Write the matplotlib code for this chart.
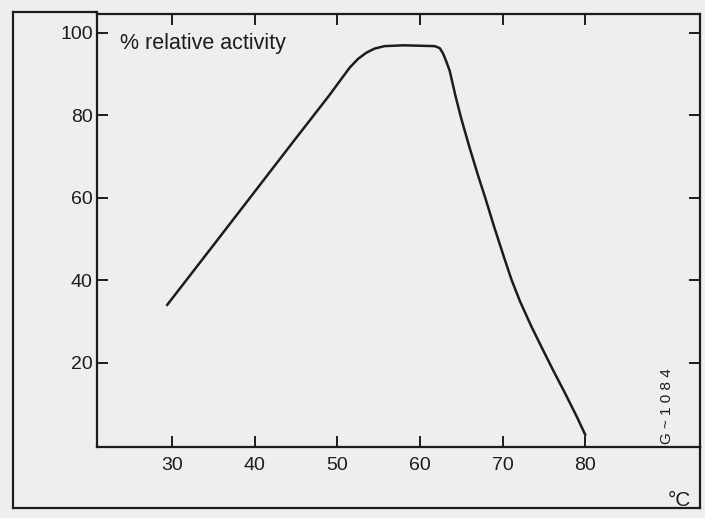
import matplotlib.pyplot as plt
from matplotlib.lines import Line2D

# values
temp = [29.4, 35, 40, 45, 49, 50.5, 51.5, 52.5, 53.5, 54.5, 55.7, 58, 61.8,
        62.4, 62.8, 63.2, 63.6, 64.3, 65.0, 66.0, 67.0, 67.9, 69.0, 70.2,
        71.1, 72.1, 73.5, 75.0, 76.1, 77.5, 79.0, 80.0]
activity = [34, 48.5, 61.5, 74.5, 84.8, 88.9, 91.6, 93.7, 95.2, 96.2, 96.8, 97, 96.8,
            96.3, 95.0, 93.0, 90.8, 84.7, 79.2, 72.2, 65.6, 60.0, 52.8, 45.4,
            40.0, 34.9, 28.7, 22.6, 18.2, 12.8, 6.8, 2.5]
xticks = [30, 40, 50, 60, 70, 80]
yticks = [20, 40, 60, 80, 100]

ink = '#1c1c1c'
paper = '#eeeeee'
plt.rcParams['font.family'] = ['Liberation Sans', 'DejaVu Sans']

fig = plt.figure(figsize=(7.05, 5.18), dpi=100, facecolor=paper)
ax = fig.add_axes([97/705, 1-447/518, (700-97)/705, (447-14)/518])
ax.set_facecolor(paper)

ax.plot(temp, activity, color=ink, lw=1.8, solid_joinstyle='round')

ax.set_xlim(20.9, 93.9)
ax.set_ylim(-0.5, 104.6)
ax.set_xticks(xticks)
ax.set_yticks(yticks)
ax.tick_params(direction='in', length=8, width=1.4, color=ink, labelcolor=ink,
               labelsize=14, top=True, right=True)
ax.tick_params(axis='x', pad=7)
ax.tick_params(axis='y', pad=3)
for s in ax.spines.values():
    s.set_color(ink)
    s.set_linewidth(1.6)

fig.text(120/705, 1-33/518, '% relative activity', fontsize=15.5, color=ink,
         va='top', ha='left')
fig.text(667/705, 1-406/518, 'G ~ 1 0 8 4', rotation=90,
         fontsize=11, color=ink, va='center', ha='center')
fig.text(679/705, 1-500/518, '°C', fontsize=15, color=ink, ha='center', va='center')

# outer frame of the printed figure
x0, x1 = 13/705, 700/705
y0, y1 = 1-508/518, 1-12/518
for xs, ys in [([x0, 97/705], [y1, y1]), ([x0, x0], [y0, y1]),
               ([x0, x1], [y0, y0]), ([x1, x1], [y0, 1-447/518])]:
    fig.add_artist(Line2D(xs, ys, color=ink, lw=1.6, transform=fig.transFigure))

fig.savefig('out.png', dpi=100, facecolor=paper)
